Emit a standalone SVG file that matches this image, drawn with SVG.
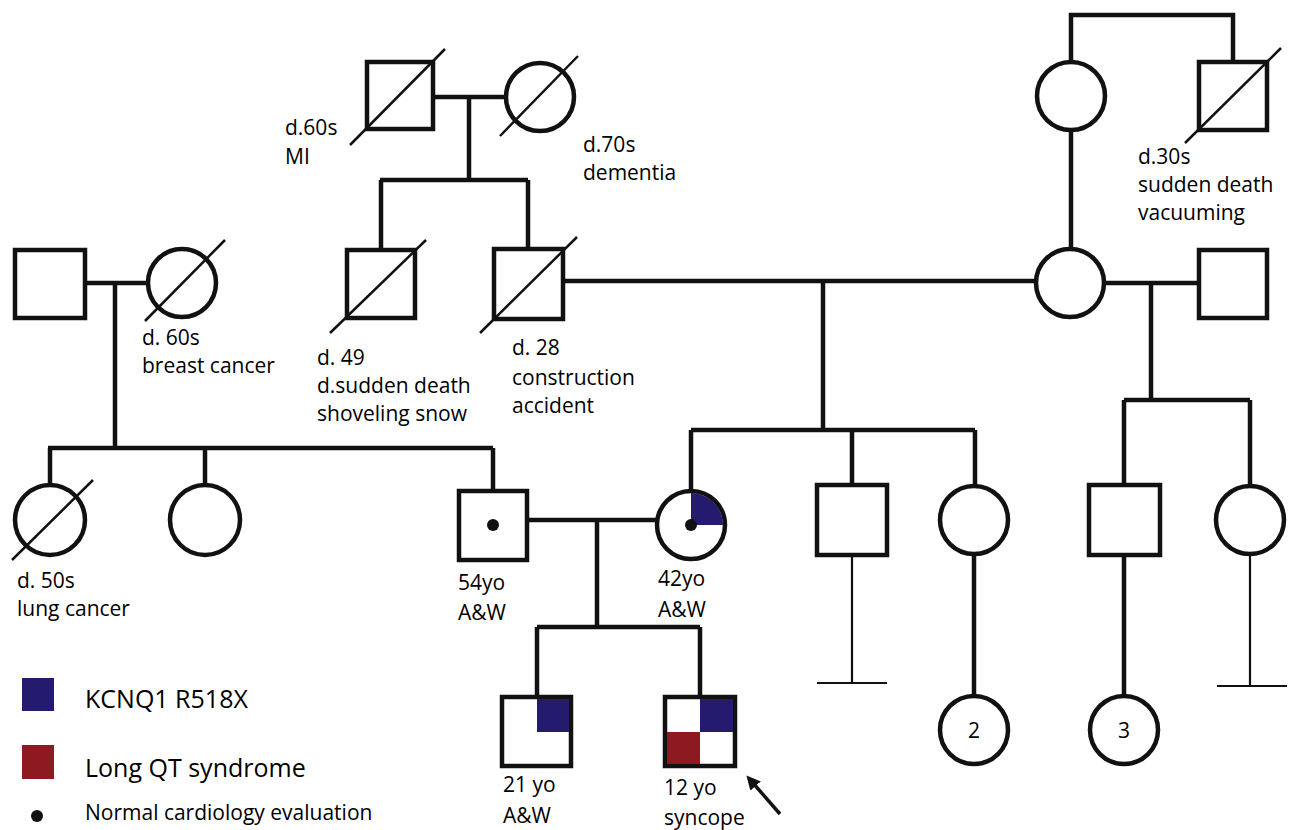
<svg xmlns="http://www.w3.org/2000/svg" width="1290" height="830" viewBox="0 0 1290 830">
<defs>
<style>
.n{fill:#fff;stroke:#111;stroke-width:4.5}
.c{fill:none;stroke:#111;stroke-width:4.5}
.t{fill:none;stroke:#111;stroke-width:2.2}
.d{stroke:#111;stroke-width:2.5}
text{font-family:"Open Sans","Liberation Sans",sans-serif;font-size:21px;fill:#000}
.lg{font-size:25px}
.blue{fill:#241b6e}
.red{fill:#8c1a20}
</style>
<marker id="ah" markerWidth="14" markerHeight="14" refX="4" refY="7" orient="auto" markerUnits="userSpaceOnUse" viewBox="0 0 14 14">
<path d="M0,0 L14,7 L0,14 Z" fill="#111"/>
</marker>
</defs>
<rect width="1290" height="830" fill="#fff"/>

<g id="connectors">
<path class="c" d="M433,97 H505 M469,97 V180 M380,180 H528 M381,180 V249 M528,180 V249"/>
<path class="c" d="M1071,62 V15 H1233 V62 M1071,130 V249"/>
<path class="c" d="M85,283 H148 M115,283 V448 M48,448 H493 M50,448 V484 M205,448 V484 M493,448 V491"/>
<path class="c" d="M563,281 H1036 M823,281 V430 M691,430 H975 M691,430 V491 M852,430 V485 M975,430 V486"/>
<path class="c" d="M1104,283 H1199 M1151,283 V400 M1124,400 H1250 M1124,400 V485 M1250,400 V486"/>
<path class="c" d="M527,520 H657 M597,520 V627 M537,627 H700 M537,627 V697 M700,627 V697"/>
<path class="t" d="M852,555 V683 M817,683 H887 M1250,554 V686 M1217,686 H1287"/>
<path class="c" d="M974,554 V696 M1124,555 V696"/>
<line x1="780" y1="814" x2="753" y2="783" stroke="#111" stroke-width="3.5" marker-end="url(#ah)"/>
</g>

<g id="gp_m_left">
<rect class="n" x="367" y="62" width="66" height="67"/>
<line class="d" x1="350" y1="145" x2="445" y2="49"/>
<text x="285" y="135">d.60s</text>
<text x="285" y="164">MI</text>
</g>
<g id="gp_f_left">
<circle class="n" cx="540" cy="97" r="34"/>
<line class="d" x1="500" y1="136" x2="578" y2="56"/>
<text x="583" y="152">d.70s</text>
<text x="583" y="180">dementia</text>
</g>

<g id="gp_f_right">
<circle class="n" cx="1071" cy="96" r="34"/>
</g>
<g id="gp_m_right">
<rect class="n" x="1199" y="62" width="68" height="68"/>
<line class="d" x1="1185" y1="143" x2="1281" y2="48"/>
<text x="1138" y="164">d.30s</text>
<text x="1138" y="192">sudden death</text>
<text x="1138" y="220">vacuuming</text>
</g>

<g id="left_m">
<rect class="n" x="15" y="250" width="70" height="68"/>
</g>
<g id="left_f">
<circle class="n" cx="182" cy="283" r="34"/>
<line class="d" x1="145" y1="321" x2="225" y2="240"/>
<text x="142" y="345">d. 60s</text>
<text x="142" y="373">breast cancer</text>
</g>

<g id="uncle_49">
<rect class="n" x="347" y="250" width="68" height="68"/>
<line class="d" x1="330" y1="333" x2="426" y2="240"/>
<text x="317" y="365">d. 49</text>
<text x="317" y="393">d.sudden death</text>
<text x="317" y="421">shoveling snow</text>
</g>
<g id="father_28">
<rect class="n" x="494" y="249" width="69" height="70"/>
<line class="d" x1="480" y1="333" x2="577" y2="237"/>
<text x="512" y="355">d. 28</text>
<text x="512" y="385">construction</text>
<text x="512" y="413">accident</text>
</g>
<g id="mother_mid">
<circle class="n" cx="1070" cy="283" r="34"/>
</g>
<g id="stepfather">
<rect class="n" x="1199" y="250" width="68" height="68"/>
</g>

<g id="aunt_50s">
<circle class="n" cx="50" cy="520" r="35"/>
<line class="d" x1="12" y1="560" x2="93" y2="480"/>
<text x="17" y="588">d. 50s</text>
<text x="17" y="616">lung cancer</text>
</g>
<g id="aunt_2">
<circle class="n" cx="205" cy="520" r="35"/>
</g>
<g id="father_54">
<rect class="n" x="459" y="491" width="68" height="69"/>
<circle cx="493" cy="525" r="6" fill="#111"/>
<text x="458" y="590">54yo</text>
<text x="458" y="620">A&amp;W</text>
</g>
<g id="mother_42">
<circle class="n" cx="691" cy="525" r="34"/>
<path class="blue" d="M691,525 V493 A32,32 0 0 1 723,525 Z"/>
<circle cx="691" cy="525" r="6" fill="#111"/>
<text x="658" y="586">42yo</text>
<text x="658" y="617">A&amp;W</text>
</g>
<g id="halfbro_1">
<rect class="n" x="817" y="485" width="70" height="70"/>
</g>
<g id="halfsis_1">
<circle class="n" cx="974" cy="520" r="34"/>
</g>
<g id="halfbro_2">
<rect class="n" x="1089" y="485" width="71" height="70"/>
</g>
<g id="halfsis_2">
<circle class="n" cx="1250" cy="520" r="34"/>
</g>

<g id="niece_2">
<circle class="n" cx="974" cy="730" r="34"/>
<text x="974" y="738" text-anchor="middle">2</text>
</g>
<g id="niece_3">
<circle class="n" cx="1124" cy="730" r="34"/>
<text x="1124" y="738" text-anchor="middle">3</text>
</g>

<g id="son_21">
<rect class="n" x="502" y="697" width="69" height="69"/>
<rect class="blue" x="537" y="699" width="32" height="33"/>
<text x="503" y="792">21 yo</text>
<text x="503" y="823">A&amp;W</text>
</g>
<g id="proband_12">
<rect class="n" x="665" y="697" width="70" height="69"/>
<rect class="blue" x="700" y="699" width="33" height="33"/>
<rect class="red" x="667" y="732" width="33" height="32"/>
<text x="664" y="795">12 yo</text>
<text x="664" y="825">syncope</text>
</g>

<g id="legend">
<rect class="blue" x="22" y="678" width="32" height="33"/>
<text class="lg" x="85" y="708">KCNQ1 R518X</text>
<rect class="red" x="22" y="745" width="32" height="34"/>
<text class="lg" x="85" y="777">Long QT syndrome</text>
<circle cx="37" cy="816" r="6" fill="#111"/>
<text x="85" y="820">Normal cardiology evaluation</text>
</g>
</svg>
